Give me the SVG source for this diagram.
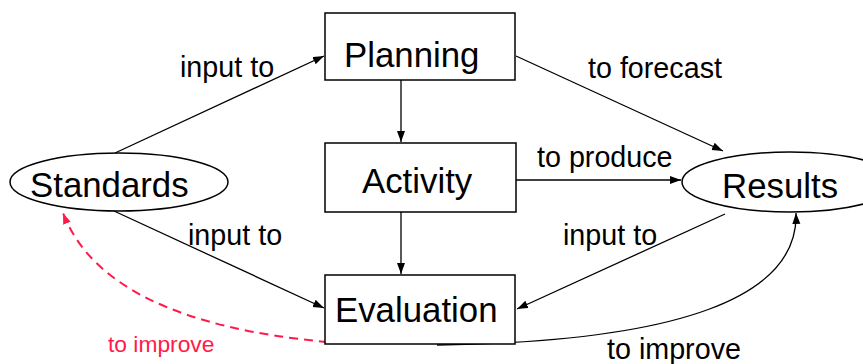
<svg xmlns="http://www.w3.org/2000/svg" width="863" height="364" viewBox="0 0 863 364">
<defs>
<marker id="ah" markerUnits="userSpaceOnUse" markerWidth="12" markerHeight="10" refX="11" refY="4" orient="auto"><path d="M0,0 L11,4 L0,8 Z" fill="#000"/></marker>
<marker id="ahr" markerUnits="userSpaceOnUse" markerWidth="12" markerHeight="10" refX="11" refY="4" orient="auto"><path d="M0,0 L11,4 L0,8 Z" fill="#ff1a4a"/></marker>
<style>
.box{fill:#fff;stroke:#000;stroke-width:1.5}
.node{font-family:"Liberation Sans",Arial,sans-serif;font-size:34.8px;fill:#000}
.lbl{font-family:"Liberation Sans",Arial,sans-serif;font-size:28.7px;fill:#000}
.red{font-family:"Liberation Sans",Arial,sans-serif;font-size:22.8px;fill:#ff1a4a}
.e{fill:none;stroke:#000;stroke-width:1.3;marker-end:url(#ah)}
.d{fill:none;stroke:#ff1a4a;stroke-width:2;stroke-dasharray:9 6;marker-end:url(#ahr)}
</style>
</defs>
<rect width="863" height="364" fill="#fff"/>
<g id="connectors">
<line class="e" x1="115" y1="153" x2="324" y2="56"/>
<line class="e" x1="114" y1="211" x2="324" y2="308"/>
<line class="e" x1="401" y1="80" x2="401" y2="142"/>
<line class="e" x1="401" y1="212" x2="401" y2="274"/>
<line class="e" x1="516" y1="56" x2="723" y2="151"/>
<line class="e" x1="516" y1="180" x2="681" y2="180"/>
<line class="e" x1="725" y1="214" x2="517" y2="309"/>
<path class="e" d="M437,345 Q800,340 796,213"/>
<path class="d" d="M328,342 Q105,322 63,213"/>
</g>
<g id="labels">
<text class="lbl" x="180" y="77">input to</text>
<text class="lbl" x="588" y="78">to forecast</text>
<text class="lbl" x="537" y="167">to produce</text>
<text class="lbl" x="188" y="245">input to</text>
<text class="lbl" x="563" y="245">input to</text>
<text class="lbl" x="607" y="359">to improve</text>
<text class="red" x="108" y="352">to improve</text>
</g>
<g id="planning"><rect class="box" x="325" y="13" width="190" height="67"/><text class="node" x="344" y="67">Planning</text></g>
<g id="activity"><rect class="box" x="325" y="143" width="191" height="69"/><text class="node" x="362" y="193">Activity</text></g>
<g id="evaluation"><rect class="box" x="325" y="275" width="190" height="69"/><text class="node" x="335" y="322">Evaluation</text></g>
<g id="standards"><ellipse class="box" cx="119" cy="182" rx="109" ry="29"/><text class="node" x="30" y="197">Standards</text></g>
<g id="results"><ellipse class="box" cx="790" cy="182" rx="108" ry="30"/><text class="node" x="722" y="198">Results</text></g>
</svg>
